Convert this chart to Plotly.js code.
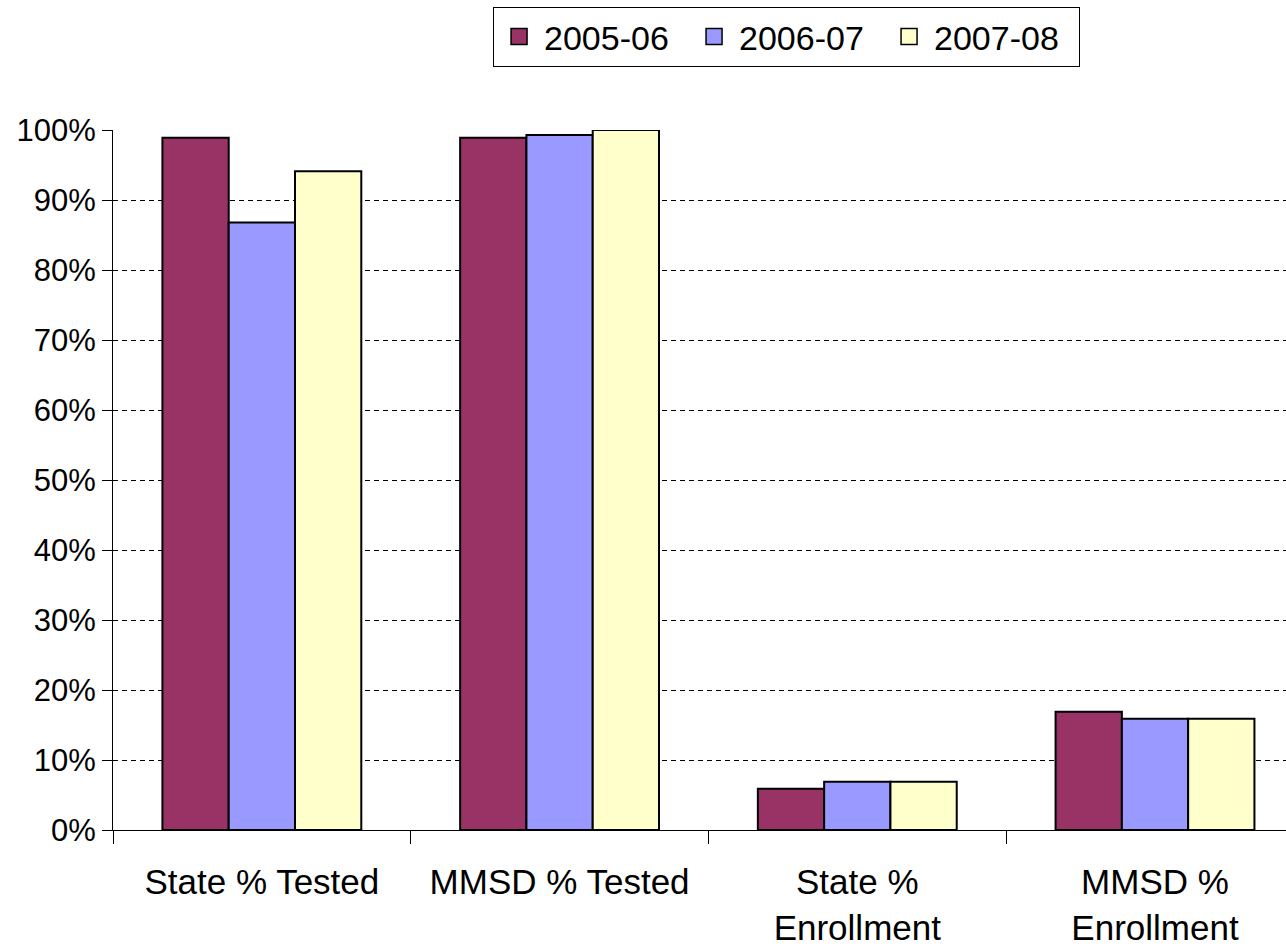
<!DOCTYPE html>
<html>
<head>
<meta charset="utf-8">
<script src="https://cdn.plot.ly/plotly-3.0.1.min.js"></script>
<style>html,body{margin:0;padding:0;background:#fff}#chart{width:1286px;height:947px}</style>
</head>
<body>
<div id="chart"></div>
<script>
const categories = ["State % Tested", "MMSD % Tested", "State %<br>Enrollment", "MMSD %<br>Enrollment"];
const seriesNames = ["2005-06", "2006-07", "2007-08"];
const values2005 = [0.989, 0.989, 0.059, 0.169];
const values2006 = [0.868, 0.993, 0.069, 0.159];
const values2007 = [0.941, 1.000, 0.069, 0.159];
const seriesColors = ["#993366", "#9999FF", "#FFFFCC"];
const yTickVals = [0, 0.1, 0.2, 0.3, 0.4, 0.5, 0.6, 0.7, 0.8, 0.9, 1.0];

const allValues = [values2005, values2006, values2007];
const traces = allValues.map((vals, i) => ({
  type: "bar",
  name: seriesNames[i],
  showlegend: false,
  x: categories,
  y: vals,
  marker: {color: seriesColors[i], line: {color: "#000000", width: 2}},
  hoverinfo: "x+y+name"
}));
// legend keys (larger square swatches, as in the original)
seriesNames.forEach((nm, i) => {
  traces.push({
    type: "scatter",
    mode: "markers",
    name: nm,
    x: [null],
    y: [null],
    marker: {symbol: "square", size: 16, color: seriesColors[i], line: {color: "#000000", width: 1.5}},
    hoverinfo: "skip"
  });
});

const layout = {
  width: 1286,
  height: 947,
  margin: {l: 113, r: 0, t: 130, b: 117, pad: 0},
  paper_bgcolor: "#ffffff",
  plot_bgcolor: "#ffffff",
  font: {family: "Liberation Sans, Arial, sans-serif", color: "#000000"},
  barmode: "group",
  bargap: 0.332,
  bargroupgap: 0,
  showlegend: true,
  legend: {
    orientation: "h",
    x: 0.324, xanchor: "left",
    y: 1.176, yanchor: "top",
    bordercolor: "#000000", borderwidth: 1,
    bgcolor: "#ffffff",
    font: {size: 34, color: "#000000"},
    itemwidth: 40,
    entrywidth: 140,
    entrywidthmode: "pixels",
    itemclick: false, itemdoubleclick: false
  },
  xaxis: {
    type: "category",
    range: [-0.5, 3.44],
    showline: true, linecolor: "#000000", linewidth: 1,
    ticks: "outside", ticklen: 13, tickcolor: "#000000", tickwidth: 1,
    tickson: "boundaries",
    showgrid: false,
    zeroline: false,
    tickfont: {size: 35, color: "#000000"},
    ticklabelstandoff: 21,
    automargin: false
  },
  yaxis: {
    range: [0, 1],
    tickvals: yTickVals,
    tickformat: ".0%",
    showline: true, linecolor: "#000000", linewidth: 1,
    ticks: "outside", ticklen: 10, tickcolor: "#000000", tickwidth: 1,
    showgrid: true, gridcolor: "#000000", gridwidth: 1, griddash: "5px,4px",
    zeroline: false,
    tickfont: {size: 31, color: "#000000"},
    automargin: false
  }
};

Plotly.newPlot("chart", traces, layout, {displayModeBar: false, responsive: false});
</script>
</body>
</html>
